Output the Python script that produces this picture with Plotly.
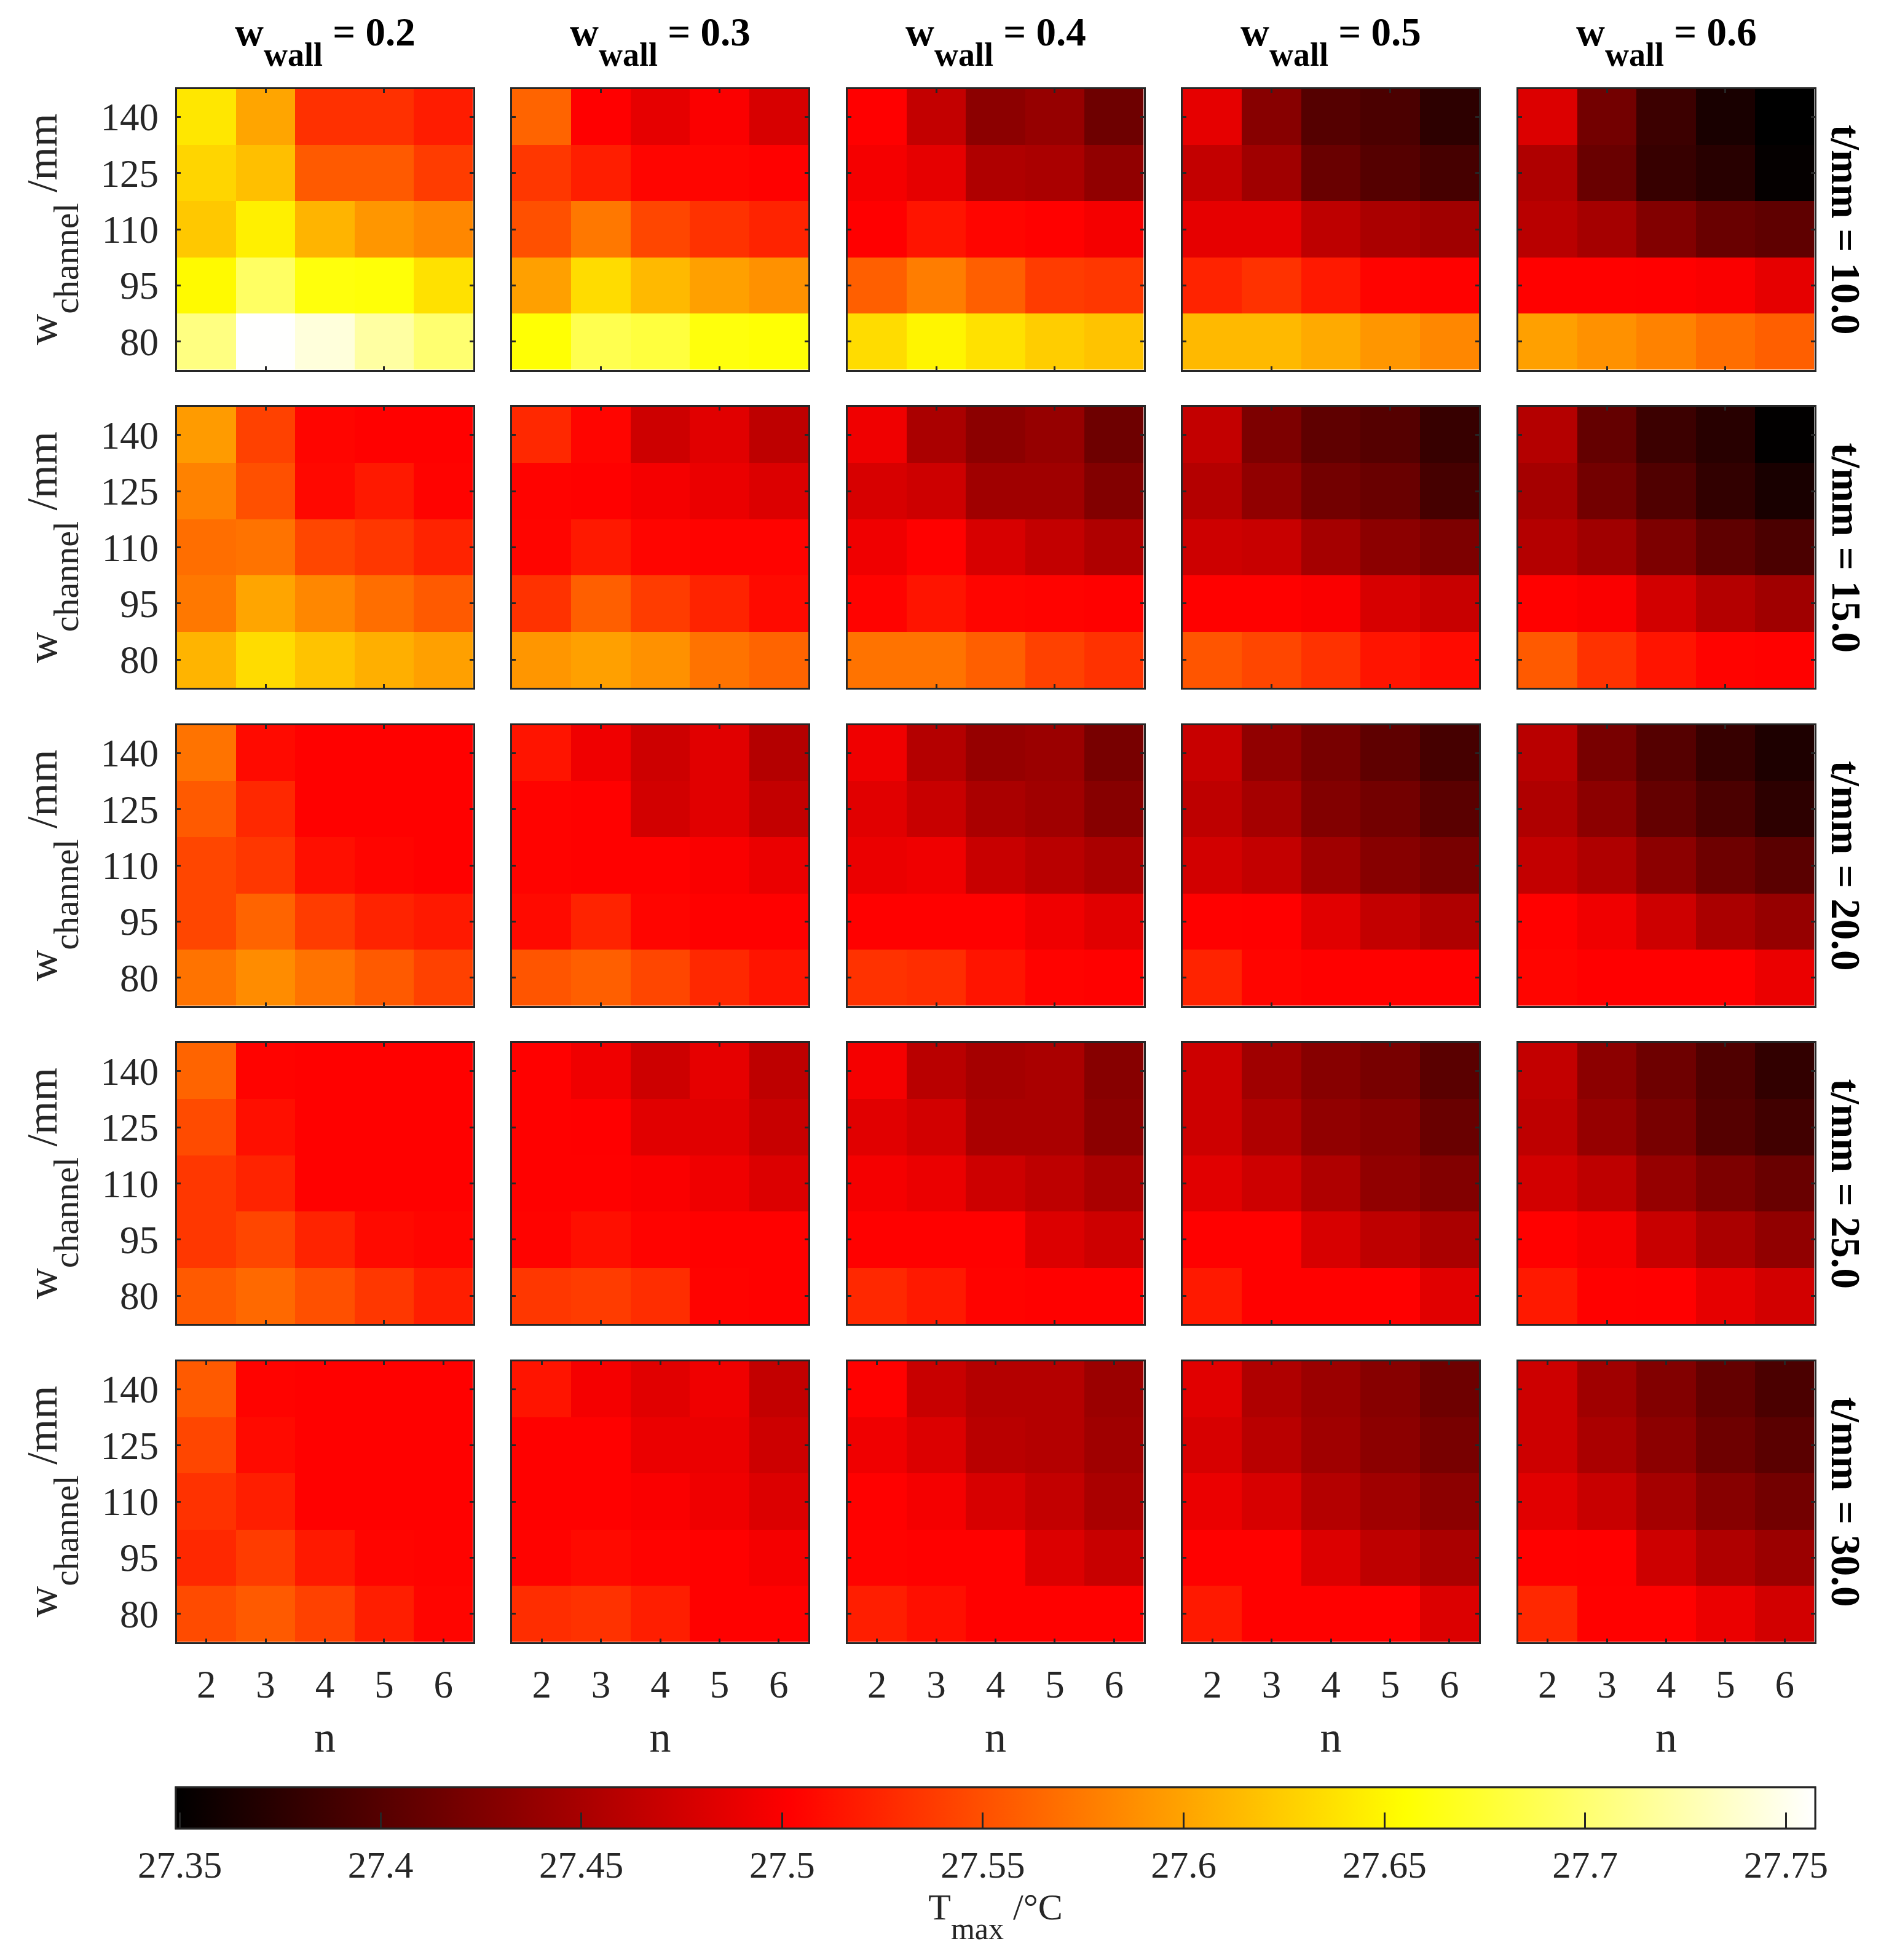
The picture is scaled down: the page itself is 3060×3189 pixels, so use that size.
import plotly.graph_objects as go

# ---- categories / tick labels ----
n_values = [2, 3, 4, 5, 6]
w_channel = [140, 125, 110, 95, 80]
w_wall = ["0.2", "0.3", "0.4", "0.5", "0.6"]
t_mm = ["10.0", "15.0", "20.0", "25.0", "30.0"]
cbar_ticks = [27.35, 27.4, 27.45, 27.5, 27.55, 27.6, 27.65, 27.7, 27.75]
cbar_labels = ["27.35", "27.4", "27.45", "27.5", "27.55", "27.6", "27.65", "27.7", "27.75"]

# ---- values: T_max per t / w_wall, rows w_channel 140..80, columns n 2..6 ----
T_t10_w02 = [[27.641, 27.601, 27.531, 27.531, 27.519], [27.630, 27.617, 27.556, 27.556, 27.538], [27.622, 27.646, 27.610, 27.592, 27.583], [27.652, 27.695, 27.660, 27.658, 27.637], [27.707, 27.757, 27.743, 27.720, 27.700]]
T_t10_w03 = [[27.562, 27.502, 27.487, 27.500, 27.478], [27.535, 27.520, 27.505, 27.505, 27.503], [27.550, 27.574, 27.544, 27.532, 27.523], [27.598, 27.634, 27.613, 27.598, 27.589], [27.657, 27.687, 27.680, 27.660, 27.657]]
T_t10_w04 = [[27.502, 27.466, 27.433, 27.439, 27.415], [27.496, 27.487, 27.454, 27.451, 27.436], [27.502, 27.514, 27.505, 27.503, 27.496], [27.559, 27.577, 27.559, 27.538, 27.535], [27.634, 27.649, 27.637, 27.625, 27.619]]
T_t10_w05 = [[27.487, 27.430, 27.400, 27.394, 27.376], [27.466, 27.445, 27.412, 27.400, 27.391], [27.487, 27.487, 27.463, 27.451, 27.445], [27.523, 27.532, 27.517, 27.504, 27.503], [27.613, 27.613, 27.604, 27.592, 27.583]]
T_t10_w06 = [[27.481, 27.418, 27.385, 27.364, 27.349], [27.454, 27.412, 27.382, 27.373, 27.352], [27.460, 27.448, 27.427, 27.412, 27.406], [27.503, 27.503, 27.502, 27.499, 27.487], [27.598, 27.589, 27.580, 27.568, 27.559]]

T_t15_w02 = [[27.595, 27.541, 27.505, 27.503, 27.503], [27.580, 27.550, 27.507, 27.517, 27.504], [27.568, 27.571, 27.544, 27.535, 27.523], [27.574, 27.601, 27.583, 27.568, 27.556], [27.610, 27.634, 27.619, 27.607, 27.598]]
T_t15_w03 = [[27.526, 27.505, 27.472, 27.484, 27.463], [27.504, 27.503, 27.496, 27.490, 27.481], [27.505, 27.517, 27.505, 27.504, 27.504], [27.532, 27.559, 27.538, 27.523, 27.508], [27.592, 27.598, 27.589, 27.571, 27.562]]
T_t15_w04 = [[27.493, 27.451, 27.433, 27.439, 27.415], [27.478, 27.472, 27.445, 27.445, 27.427], [27.493, 27.503, 27.478, 27.466, 27.454], [27.504, 27.514, 27.505, 27.504, 27.503], [27.571, 27.571, 27.559, 27.541, 27.532]]
T_t15_w05 = [[27.466, 27.424, 27.406, 27.400, 27.382], [27.457, 27.436, 27.418, 27.412, 27.391], [27.472, 27.469, 27.448, 27.433, 27.424], [27.503, 27.503, 27.499, 27.478, 27.469], [27.553, 27.544, 27.532, 27.514, 27.508]]
T_t15_w06 = [[27.457, 27.409, 27.385, 27.373, 27.350], [27.448, 27.418, 27.397, 27.379, 27.364], [27.457, 27.445, 27.424, 27.406, 27.394], [27.503, 27.499, 27.475, 27.457, 27.445], [27.556, 27.532, 27.514, 27.504, 27.503]]

T_t20_w02 = [[27.571, 27.508, 27.503, 27.503, 27.503], [27.556, 27.526, 27.503, 27.503, 27.503], [27.544, 27.535, 27.511, 27.505, 27.503], [27.544, 27.562, 27.538, 27.523, 27.517], [27.571, 27.586, 27.571, 27.556, 27.541]]
T_t20_w03 = [[27.514, 27.493, 27.472, 27.484, 27.457], [27.504, 27.503, 27.475, 27.484, 27.466], [27.504, 27.503, 27.503, 27.499, 27.490], [27.508, 27.523, 27.505, 27.503, 27.503], [27.553, 27.559, 27.544, 27.526, 27.514]]
T_t20_w04 = [[27.493, 27.457, 27.439, 27.442, 27.421], [27.484, 27.469, 27.451, 27.445, 27.430], [27.490, 27.493, 27.469, 27.460, 27.451], [27.503, 27.503, 27.503, 27.493, 27.484], [27.532, 27.529, 27.514, 27.504, 27.503]]
T_t20_w05 = [[27.469, 27.436, 27.421, 27.406, 27.391], [27.463, 27.448, 27.427, 27.418, 27.403], [27.475, 27.466, 27.445, 27.430, 27.421], [27.503, 27.502, 27.484, 27.466, 27.454], [27.523, 27.505, 27.503, 27.503, 27.502]]
T_t20_w06 = [[27.460, 27.421, 27.400, 27.382, 27.367], [27.454, 27.433, 27.409, 27.394, 27.376], [27.466, 27.454, 27.433, 27.415, 27.403], [27.503, 27.493, 27.472, 27.451, 27.439], [27.505, 27.502, 27.502, 27.502, 27.490]]

T_t25_w02 = [[27.562, 27.504, 27.503, 27.503, 27.503], [27.547, 27.511, 27.503, 27.503, 27.503], [27.535, 27.523, 27.503, 27.503, 27.503], [27.535, 27.544, 27.523, 27.508, 27.505], [27.556, 27.565, 27.550, 27.535, 27.520]]
T_t25_w03 = [[27.503, 27.493, 27.472, 27.487, 27.463], [27.503, 27.502, 27.484, 27.484, 27.469], [27.503, 27.503, 27.499, 27.493, 27.481], [27.504, 27.511, 27.504, 27.503, 27.503], [27.535, 27.538, 27.529, 27.504, 27.503]]
T_t25_w04 = [[27.496, 27.460, 27.448, 27.451, 27.430], [27.484, 27.475, 27.451, 27.451, 27.433], [27.496, 27.490, 27.472, 27.463, 27.451], [27.503, 27.503, 27.503, 27.481, 27.472], [27.526, 27.517, 27.504, 27.503, 27.503]]
T_t25_w05 = [[27.472, 27.445, 27.430, 27.421, 27.403], [27.472, 27.454, 27.436, 27.430, 27.412], [27.484, 27.472, 27.454, 27.436, 27.427], [27.503, 27.503, 27.478, 27.463, 27.451], [27.517, 27.503, 27.503, 27.502, 27.484]]
T_t25_w06 = [[27.466, 27.433, 27.415, 27.397, 27.379], [27.463, 27.439, 27.421, 27.400, 27.388], [27.475, 27.463, 27.439, 27.424, 27.412], [27.503, 27.496, 27.469, 27.451, 27.436], [27.517, 27.503, 27.502, 27.487, 27.475]]

T_t30_w02 = [[27.556, 27.504, 27.503, 27.503, 27.503], [27.544, 27.508, 27.503, 27.503, 27.503], [27.532, 27.520, 27.503, 27.503, 27.503], [27.526, 27.538, 27.517, 27.505, 27.504], [27.547, 27.556, 27.541, 27.520, 27.505]]
T_t30_w03 = [[27.514, 27.496, 27.484, 27.493, 27.466], [27.503, 27.503, 27.490, 27.490, 27.472], [27.503, 27.503, 27.499, 27.493, 27.481], [27.504, 27.508, 27.504, 27.503, 27.496], [27.529, 27.532, 27.520, 27.503, 27.503]]
T_t30_w04 = [[27.503, 27.469, 27.457, 27.457, 27.442], [27.493, 27.481, 27.460, 27.457, 27.445], [27.503, 27.496, 27.478, 27.466, 27.451], [27.504, 27.503, 27.503, 27.481, 27.469], [27.520, 27.511, 27.503, 27.503, 27.503]]
T_t30_w05 = [[27.484, 27.454, 27.442, 27.430, 27.415], [27.478, 27.460, 27.445, 27.433, 27.421], [27.490, 27.478, 27.457, 27.445, 27.433], [27.503, 27.503, 27.481, 27.463, 27.451], [27.517, 27.503, 27.503, 27.502, 27.481]]
T_t30_w06 = [[27.472, 27.445, 27.427, 27.409, 27.394], [27.472, 27.451, 27.433, 27.415, 27.403], [27.484, 27.469, 27.448, 27.430, 27.418], [27.503, 27.502, 27.472, 27.454, 27.442], [27.526, 27.503, 27.503, 27.490, 27.475]]

T_rows = [
    [T_t10_w02, T_t10_w03, T_t10_w04, T_t10_w05, T_t10_w06],
    [T_t15_w02, T_t15_w03, T_t15_w04, T_t15_w05, T_t15_w06],
    [T_t20_w02, T_t20_w03, T_t20_w04, T_t20_w05, T_t20_w06],
    [T_t25_w02, T_t25_w03, T_t25_w04, T_t25_w05, T_t25_w06],
    [T_t30_w02, T_t30_w03, T_t30_w04, T_t30_w05, T_t30_w06],
]

# ---- layout constants (pixels) ----
W, H = 3060, 3189
LEFT, COL_W, COL_STEP = 286, 485, 545.5
TOP, ROW_H, ROW_STEP = 143, 460, 517.5
CB_TOP, CB_H, CB_RIGHT = 2908, 67, 2953
LW = 3
INSET = 1.5
INK = "#262626"
FONT = "Liberation Serif"
FS = 63
HOT = [[0, "#000000"], [0.375, "#ff0000"], [0.75, "#ffff00"], [1, "#ffffff"]]
ZMIN, ZMAX = 27.349, 27.7573


def lowered(text, size, drop):
    return f'<span style="font-size:{size}px;baseline-shift:-{drop}px">{text}</span>'


fig = go.Figure()
layout = {}
annotations = []

for r in range(5):
    for c in range(5):
        idx = r * 5 + c + 1
        xa = "x" if idx == 1 else f"x{idx}"
        ya = "y" if idx == 1 else f"y{idx}"
        x0 = LEFT + c * COL_STEP
        y0 = TOP + r * ROW_STEP
        trace = dict(
            x=n_values, y=w_channel, z=T_rows[r][c], xaxis=xa, yaxis=ya,
            colorscale=HOT, zmin=ZMIN, zmax=ZMAX, showscale=False,
            hovertemplate="n=%{x}<br>w_channel=%{y}<br>T_max=%{z}<extra></extra>",
        )
        base_cb = dict(
            orientation="h", x=LEFT / W, xanchor="left", xref="paper",
            y=1 - CB_TOP / H, yanchor="top", yref="paper",
            lenmode="pixels", len=CB_RIGHT - LEFT, thickness=CB_H,
            thicknessmode="pixels", xpad=0, ypad=0, borderwidth=0,
            outlinecolor=INK, outlinewidth=3,
            tickmode="array", tickvals=cbar_ticks, ticktext=cbar_labels,
        )
        if r == 0 and c == 0:
            trace["showscale"] = True
            trace["colorbar"] = dict(
                base_cb, ticks="outside", ticklen=6, tickwidth=1,
                tickcolor="rgba(0,0,0,0)",
                tickfont=dict(family=FONT, size=61, color=INK),
                title=dict(text="T" + lowered("max", 50, 32) + " /°C", side="bottom",
                           font=dict(family=FONT, size=60, color=INK)),
            )
        if r == 0 and c == 1:
            trace["showscale"] = True
            trace["colorbar"] = dict(
                base_cb, ticks="inside", ticklen=27, tickwidth=3,
                tickcolor=INK, showticklabels=False,
            )
        fig.add_trace(go.Heatmap(**trace))

        bottom = r == 4
        left = c == 0
        layout[("xaxis" if idx == 1 else f"xaxis{idx}")] = dict(
            domain=[(x0 + INSET) / W, (x0 + COL_W - INSET) / W], anchor=ya, range=[1.5, 6.5],
            tickmode="array", tickvals=n_values if bottom else [3, 5],
            ticktext=[str(v) for v in n_values] if bottom else ["3", "5"],
            showticklabels=bottom, ticks="inside", ticklen=6, tickwidth=3,
            tickcolor=INK, showline=True, mirror="ticks", linecolor=INK, linewidth=LW,
            showgrid=False, zeroline=False, ticklabelstandoff=12,
            tickfont=dict(family=FONT, size=FS, color=INK),
            title=dict(text="n", standoff=26, font=dict(family=FONT, size=70, color=INK)) if bottom else None,
        )
        layout[("yaxis" if idx == 1 else f"yaxis{idx}")] = dict(
            domain=[1 - (y0 + ROW_H - INSET) / H, 1 - (y0 + INSET) / H], anchor=xa, range=[72.5, 147.5],
            tickmode="array", tickvals=w_channel, ticktext=[str(v) for v in w_channel],
            showticklabels=left, ticks="inside", ticklen=6, tickwidth=3,
            tickcolor=INK, showline=True, mirror="ticks", linecolor=INK, linewidth=LW,
            showgrid=False, zeroline=False, ticklabelstandoff=14,
            tickfont=dict(family=FONT, size=FS, color=INK),
            title=dict(text="w" + lowered("channel", 58, 35) + " /mm", standoff=48,
                       font=dict(family=FONT, size=70, color=INK)) if left else None,
        )

for c, w in enumerate(w_wall):
    annotations.append(dict(
        text="<b>w" + lowered("wall", 54, 33) + f" = {w}</b>",
        x=(LEFT + c * COL_STEP + COL_W / 2) / W, y=1 - 67 / H,
        xref="paper", yref="paper", xanchor="center", yanchor="middle",
        showarrow=False, font=dict(family=FONT, size=65, color="#000000"),
    ))
for r, t in enumerate(t_mm):
    annotations.append(dict(
        text=f"<b>t/mm = {t}</b>",
        x=3003 / W, y=1 - (TOP + r * ROW_STEP + ROW_H / 2) / H,
        xref="paper", yref="paper", xanchor="center", yanchor="middle",
        textangle=90, showarrow=False, font=dict(family=FONT, size=67, color="#000000"),
    ))

fig.update_layout(
    width=W, height=H, autosize=False,
    margin=dict(l=0, r=0, t=0, b=0, pad=0, autoexpand=False),
    paper_bgcolor="white", plot_bgcolor="white",
    annotations=annotations, **layout,
)
fig.write_html("out.html", config={"displayModeBar": False},
               post_script="document.body.style.margin='0';")
